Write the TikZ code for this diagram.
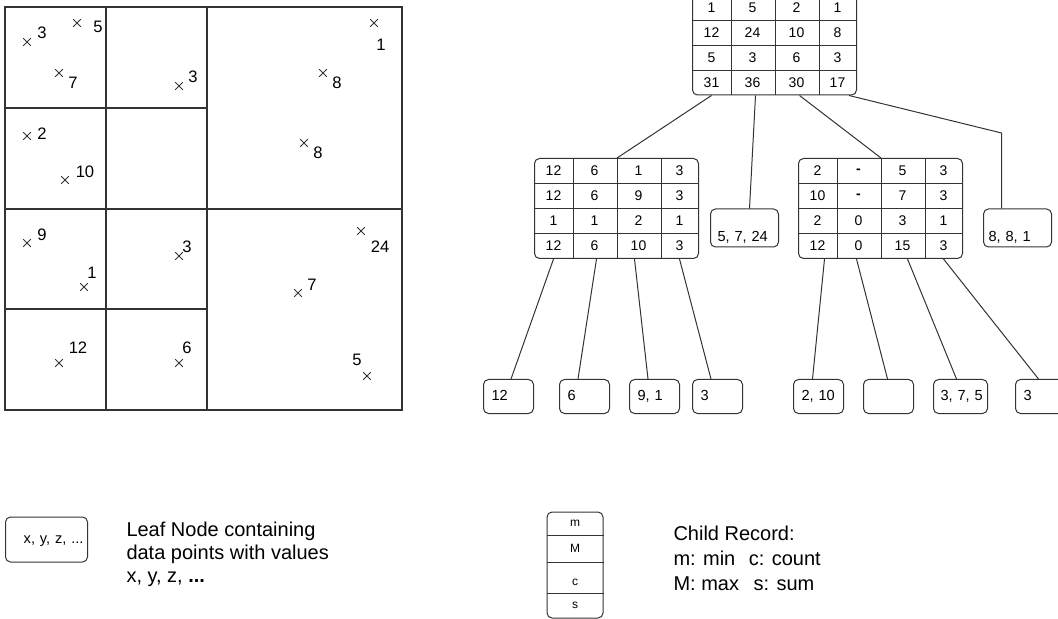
\documentclass[tikz,border=0pt]{standalone}
\usepackage{fontspec}
\setmainfont{Liberation Sans}
\usetikzlibrary{matrix,shapes.misc}
\definecolor{ink}{HTML}{333333}
\tikzset{
every picture/.style={
line width=0.5pt
}}

\begin{document}
\begin{tikzpicture}[x=0.5pt, y=-0.5pt,
grid/.style = {draw=ink, line width=0.65pt},
wire/.style = {draw=ink},
datapt/.style = {cross out, draw=ink, line width=0.45pt, minimum size=3.4pt, inner sep=0pt},
val/.style = {inner sep=0pt, font=\fontsize{8.3}{10}\selectfont},
rec/.style = {matrix of nodes, draw=ink, rounded corners=2.5pt, inner sep=0pt,
  nodes={anchor=center, inner sep=0pt, minimum height=12.5pt, font=\fontsize{7}{8}\selectfont},
  column 1/.style={nodes={minimum width=19pt}}, column 2/.style={nodes={minimum width=22pt}},
  column 3/.style={nodes={minimum width=22pt}}, column 4/.style={nodes={minimum width=19pt}}},
leaf/.style = {draw=ink, rounded corners=2.5pt, anchor=west, text width=17pt, inner xsep=4pt,
  inner ysep=0pt, minimum height=17pt, text height=5.5pt, text depth=1.5pt,
  align=left, font=\fontsize{7.3}{9}\selectfont},
bigleaf/.style = {leaf, text width=27pt, inner xsep=3.5pt, minimum height=19pt,
  text height=15pt, text depth=1.5pt},
note/.style = {anchor=west, inner sep=0pt, align=left, font=\fontsize{10}{11.5}\selectfont}]

\useasboundingbox (0,0) rectangle (1058,619);

% space partition
\draw[grid] (5,7) rectangle (402,410);
\draw[grid] (106,7) -- (106,410);
\draw[grid] (207,7) -- (207,410);
\draw[grid] (5,209) -- (402,209);
\draw[grid] (5,108) -- (207,108);
\draw[grid] (5,309) -- (207,309);

\node[datapt] (p1) at (27,42) {};    \node[val] at (42,33) {3};
\node[datapt] (p2) at (77,23) {};    \node[val] at (98,27) {5};
\node[datapt] (p3) at (59,73) {};    \node[val] at (73,83) {7};
\node[datapt] (p4) at (179,86) {};   \node[val] at (193,77) {3};
\node[datapt] (p5) at (374,23) {};   \node[val] at (381,45) {1};
\node[datapt] (p6) at (323,73) {};   \node[val] at (337,83) {8};
\node[datapt] (p7) at (304,143) {};  \node[val] at (318,153) {8};
\node[datapt] (p8) at (27,136) {};   \node[val] at (42,134) {2};
\node[datapt] (p9) at (65,180) {};   \node[val] at (85,172) {10};
\node[datapt] (p10) at (27,243) {};  \node[val] at (42,235) {9};
\node[datapt] (p11) at (84,287) {};  \node[val] at (92,273) {1};
\node[datapt] (p12) at (179,256) {}; \node[val] at (187,247) {3};
\node[datapt] (p13) at (361,231) {}; \node[val] at (380,247) {24};
\node[datapt] (p14) at (298,293) {}; \node[val] at (312,285) {7};
\node[datapt] (p15) at (59,363) {};  \node[val] at (78,348) {12};
\node[datapt] (p16) at (179,363) {}; \node[val] at (187,348) {6};
\node[datapt] (p17) at (367,376) {}; \node[val] at (357,360) {5};

% tree
\matrix[rec] (root) at (774.5,45) {
1 & 5 & 2 & 1\\
12 & 24 & 10 & 8\\
5 & 3 & 6 & 3\\
31 & 36 & 30 & 17\\};
\matrix[rec] (midl) at (616.5,208.5) {
12 & 6 & 1 & 3\\
12 & 6 & 9 & 3\\
1 & 1 & 2 & 1\\
12 & 6 & 10 & 3\\};
\matrix[rec] (midr) at (880.5,208.5) {
2 & \textbf{-} & 5 & 3\\
10 & \textbf{-} & 7 & 3\\
2 & 0 & 3 & 1\\
12 & 0 & 15 & 3\\};
\foreach \t in {root,midl,midr} {
  \foreach \c in {1,2,3} \draw[wire] (\t-1-\c.north east) -- (\t-4-\c.south east);
  \foreach \r in {1,2,3} \draw[wire] (\t-\r-1.south west) -- (\t-\r-4.south east);
}

\node[bigleaf] (m1) at (710,228) {5, 7, 24};
\node[bigleaf, inner xsep=2.5pt, text width=29pt] (m2) at (983,228) {8, 8, 1};

\node[leaf] (l1) at (483,396.5) {12};
\node[leaf] (l2) at (559,396.5) {6};
\node[leaf] (l3) at (629,396.5) {9, 1};
\node[leaf] (l4) at (692,396.5) {3};
\node[leaf] (l5) at (793,396.5) {2, 10};
\node[leaf] (l6) at (863,396.5) {};
\node[leaf, text width=23pt, inner xsep=2pt] (l7) at (933,396.5) {\hspace{1.5pt}3, 7, 5};
\node[leaf] (l8) at (1015,396.5) {3};

\draw[wire] (root-4-1.south) -- (midl-1-2.north east);
\draw[wire] ([xshift=1.5pt]root-4-2.south) -- ([xshift=2.5pt]m1.north);
\draw[wire] ([xshift=1.5pt]root-4-3.south) -- (midr-1-2.north east);
\draw[wire] ([xshift=-4pt]root.south east) -- ([xshift=-8pt]m2.north |- 0,133) -- ([xshift=-8pt]m2.north);

\draw[wire] (midl-4-1.south) -- ([xshift=1.25pt]l1.north);
\draw[wire] ([xshift=1pt]midl-4-2.south) -- ([xshift=-3.25pt]l2.north);
\draw[wire] ([xshift=-2pt]midl-4-3.south) -- ([xshift=-3.25pt]l3.north);
\draw[wire] (midl-4-4.south) -- ([xshift=-3.25pt]l4.north);

\draw[wire] ([xshift=3.5pt]midr-4-1.south) -- ([xshift=-3pt]l5.north);
\draw[wire] ([xshift=-1pt]midr-4-2.south) -- ([xshift=-0.5pt]l6.north);
\draw[wire] ([xshift=2.5pt]midr-4-3.south) -- ([xshift=-2pt]l7.north);
\draw[wire] (midr-4-4.south) -- ([xshift=-1pt]l8.north);

% key
\node[leaf, text width=37pt, inner xsep=2pt, align=right, minimum height=22.5pt] (key) at (5,539.5) {x, y, z, ...};
\node[note] (keytext) at (126,554) {Leaf Node containing\\data points with values\\x, y, z, \textbf{...}};

\matrix[rec, nodes={font=\fontsize{6}{7}\selectfont},
  column 1/.style={nodes={minimum width=28pt}},
  row 1/.style={nodes={minimum height=11.5pt}}, row 2/.style={nodes={minimum height=13.5pt}},
  row 3/.style={nodes={minimum height=15.5pt}}, row 4/.style={nodes={minimum height=12.5pt}}] (keyrec) at (575,565) {
m\\
M\\
|[text height=8pt]| c\\
s\\};
\foreach \r in {1,2,3} \draw[wire] (keyrec-\r-1.south west) -- (keyrec-\r-1.south east);
\node[note, font=\fontsize{10}{12.5}\selectfont] (rectext) at (673,558) {Child Record:\\m: min\hspace{4pt} c: count\\M: max\hspace{4.5pt} s: sum};
\end{tikzpicture}
\end{document}
